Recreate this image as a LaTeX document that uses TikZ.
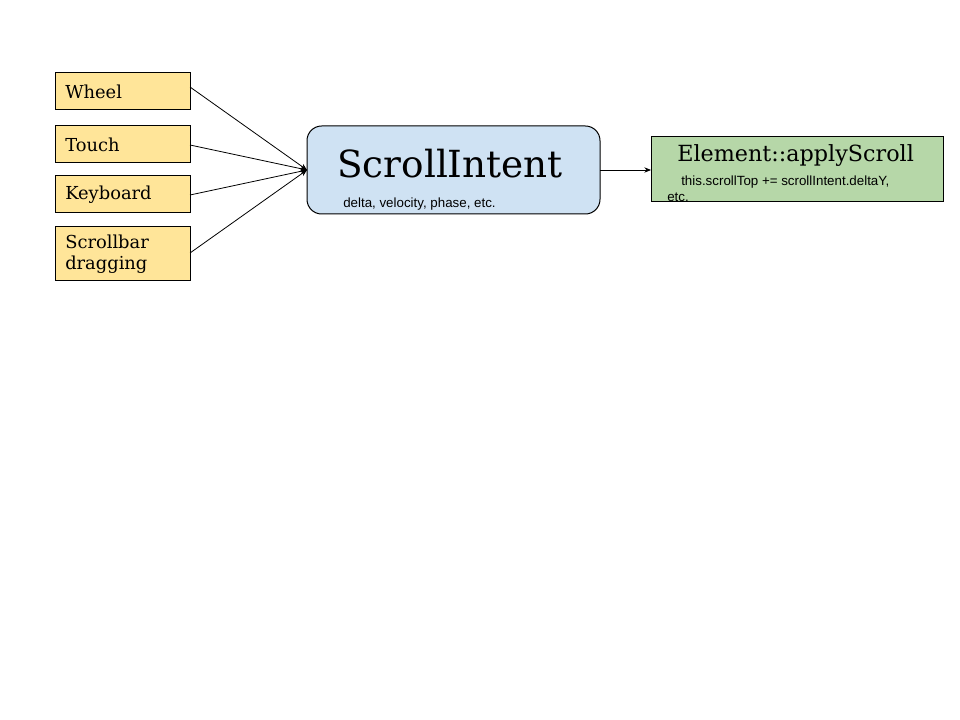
\documentclass[tikz,border=0pt]{standalone}
\usepackage{fontspec}
\setmainfont{DejaVu Serif}
\newfontfamily\labelsans{Liberation Sans}
\usetikzlibrary{arrows.meta}
\definecolor{srcyellow}{HTML}{FFE599}
\definecolor{intentblue}{HTML}{CFE2F3}
\definecolor{applygreen}{HTML}{B6D7A8}
\tikzset{
  srcbox/.style={draw=black, fill=srcyellow, line width=0.75pt},
  srctext/.style={anchor=west, inner sep=0pt, align=left, font=\fontsize{13.4pt}{15.5pt}\selectfont},
  conn/.style={draw=black, line width=0.6pt, -{Stealth[length=5pt,width=4pt]}},
  smalltext/.style={anchor=west, inner sep=0pt, font=\labelsans\fontsize{10pt}{11pt}\selectfont}
}
\begin{document}
\begin{tikzpicture}[x=0.75pt,y=-0.75pt]
\useasboundingbox (0,0) rectangle (960,720);
\fill[white] (0,0) rectangle (960,720);
% source boxes
\draw[srcbox] (55,73) rectangle (190,110);
\draw[srcbox] (55,126) rectangle (190,163);
\draw[srcbox] (55,176) rectangle (190,213);
\draw[srcbox] (55,227) rectangle (190,281);
\node[srctext] (wheel) at (65,92) {Wheel};
\node[srctext] (touch) at (65,145) {Touch};
\node[srctext] (keyboard) at (65,195) {Keyboard};
\node[srctext] (scrollbar) at (65,254) {Scrollbar\\dragging};
\coordinate (wheelR) at (190,87);
\coordinate (touchR) at (190,145);
\coordinate (keyR) at (190,195);
\coordinate (barR) at (190,253);
% intent box
\draw[fill=intentblue, line width=0.75pt, rounded corners=11pt] (307,126) rectangle (600,214);
\coordinate (intentL) at (307,170);
\coordinate (intentR) at (600,170);
\node[anchor=west, inner sep=0pt, font=\fontsize{28pt}{32pt}\selectfont] (intent) at (337,164) {ScrollIntent};
\node[smalltext] (intentsub) at (343,204) {delta, velocity, phase, etc.};
% apply box
\draw[fill=applygreen, line width=0.75pt] (651,137) rectangle (943,202);
\coordinate (applyL) at (651,170);
\node[anchor=west, inner sep=0pt, font=\fontsize{16.7pt}{20pt}\selectfont] (apply) at (677,156) {Element::applyScroll};
\node[smalltext] (applysub1) at (681,182) {this.scrollTop += scrollIntent.deltaY,};
\node[smalltext] (applysub2) at (667,197) {etc.};
% connectors
\draw[conn] (wheelR) -- (intentL);
\draw[conn] (touchR) -- (intentL);
\draw[conn] (keyR) -- (intentL);
\draw[conn] (barR) -- (intentL);
\draw[conn] (intentR) -- (applyL);
\end{tikzpicture}
\end{document}
